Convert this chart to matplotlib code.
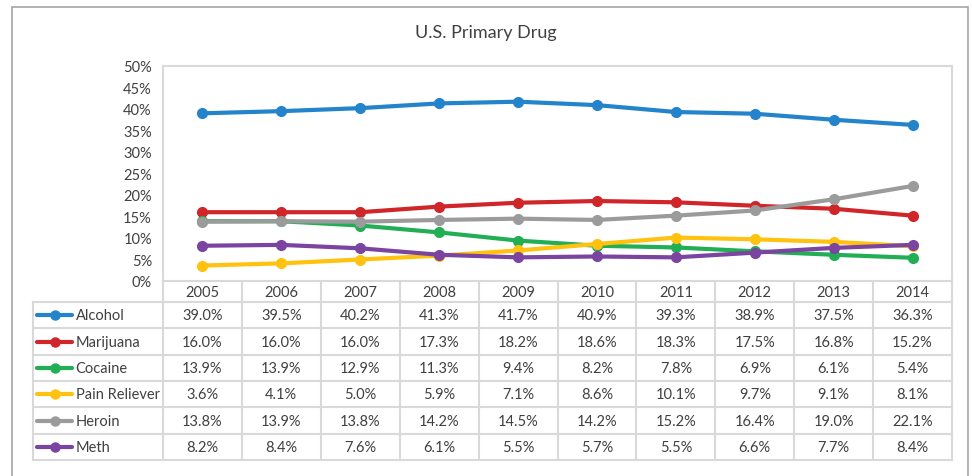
import matplotlib
matplotlib.use("Agg")
import matplotlib.pyplot as plt
from matplotlib.patches import Rectangle

plt.rcParams["font.family"] = ["Lato", "DejaVu Sans"]

# DATA
years = ["2005", "2006", "2007", "2008", "2009", "2010", "2011", "2012", "2013", "2014"]
alcohol = [39.0, 39.5, 40.2, 41.3, 41.7, 40.9, 39.3, 38.9, 37.5, 36.3]
marijuana = [16.0, 16.0, 16.0, 17.3, 18.2, 18.6, 18.3, 17.5, 16.8, 15.2]
cocaine = [13.9, 13.9, 12.9, 11.3, 9.4, 8.2, 7.8, 6.9, 6.1, 5.4]
pain_reliever = [3.6, 4.1, 5.0, 5.9, 7.1, 8.6, 10.1, 9.7, 9.1, 8.1]
heroin = [13.8, 13.9, 13.8, 14.2, 14.5, 14.2, 15.2, 16.4, 19.0, 22.1]
meth = [8.2, 8.4, 7.6, 6.1, 5.5, 5.7, 5.5, 6.6, 7.7, 8.4]

series = [
    ("Alcohol", alcohol, "#2383CB"),
    ("Marijuana", marijuana, "#D0262A"),
    ("Cocaine", cocaine, "#22AE55"),
    ("Pain Reliever", pain_reliever, "#FFC20E"),
    ("Heroin", heroin, "#9B9B9B"),
    ("Meth", meth, "#7A44A0"),
]

W, H = 972, 477
fig = plt.figure(figsize=(W / 100, H / 100), dpi=100)
fig.patch.set_facecolor("white")

def fx(px):
    return px / W

def fy(py):
    return 1 - py / H

grid_col = "#D9D9D9"
text_col = "#404040"

# outer frame
fig.add_artist(Rectangle((fx(12), -0.2), fx(956), fy(8) + 0.2, transform=fig.transFigure,
                         fill=False, edgecolor="#A6A6A6", linewidth=1.2, clip_on=False))

fig.text(0.5, fy(33), "U.S. Primary Drug", ha="center", va="center", fontsize=13, color="#404040")

# PLOT
ax = fig.add_axes([fx(163), fy(282), fx(952 - 163), (282 - 67) / H])
x = list(range(len(years)))
for name, vals, col in series:
    ax.plot(x, [v / 100 for v in vals], color=col, linewidth=3, marker="o", markersize=7,
            solid_capstyle="round")
ax.set_xlim(-0.5, len(years) - 0.5)
ax.set_ylim(0, 0.5)
ax.set_yticks([i * 0.05 for i in range(11)])
ax.set_yticklabels([f"{i * 5}%" for i in range(11)], fontsize=10.5, color=text_col)
ax.set_xticks([])
ax.tick_params(axis="y", length=0, pad=8)
for s in ax.spines.values():
    s.set_color(grid_col)
    s.set_linewidth(1.5)

# DATA TABLE
col_px = (952 - 163) / len(years)
label_w = (163 - 33) / col_px
tab = fig.add_axes([fx(33), fy(461), fx(952 - 33), (461 - 282) / H])
left = -0.5 - label_w
right = len(years) - 0.5
head = 21 / 26.3
tab.set_xlim(left, right)
tab.set_ylim(len(series), -head)
tab.axis("off")

lw = 1.5
for k in range(len(years) + 1):
    tab.plot([k - 0.5, k - 0.5], [-head, len(series)], color=grid_col, linewidth=lw, clip_on=False)
tab.plot([left, left], [0, len(series)], color=grid_col, linewidth=lw, clip_on=False)
for r in range(len(series) + 1):
    tab.plot([left, right], [r, r], color=grid_col, linewidth=lw, clip_on=False)

for k, yr in enumerate(years):
    tab.text(k, -head / 2, yr, ha="center", va="center", fontsize=10.5, color=text_col)

for r, (name, vals, col) in enumerate(series):
    yc = r + 0.5
    tab.plot([left + 0.05, left + 0.5], [yc, yc], color=col, linewidth=3, solid_capstyle="round")
    tab.plot([left + 0.275], [yc], color=col, marker="o", markersize=6.5)
    tab.text(left + 0.54, yc, name, ha="left", va="center", fontsize=10.5, color=text_col)
    for k, v in enumerate(vals):
        tab.text(k, yc, f"{v:.1f}%", ha="center", va="center", fontsize=10.5, color=text_col)

fig.savefig("out.png", dpi=100)
